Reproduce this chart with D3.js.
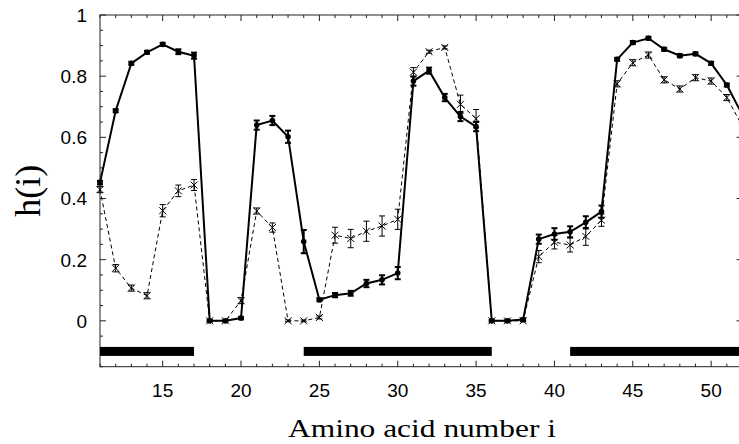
<!DOCTYPE html>
<html>
<head>
<meta charset="utf-8">
<script src="https://cdn.jsdelivr.net/npm/d3@7"></script>
<style>
  body { margin: 0; background: #fff; }
  svg { display: block; }
</style>
</head>
<body>
<div id="chart"></div>
<script>
// Amino acid positions
const residues = d3.range(11, 53);

// Solid series (filled circles) and its error bars
const hSolid = [0.452, 0.687, 0.842, 0.878, 0.904, 0.880, 0.867, 0.000, 0.000, 0.009,
  0.640, 0.655, 0.602, 0.259, 0.069, 0.084, 0.090, 0.122, 0.134, 0.156,
  0.784, 0.818, 0.730, 0.668, 0.635, 0.000, 0.000, 0.004, 0.267, 0.284,
  0.291, 0.322, 0.357, 0.855, 0.910, 0.924, 0.888, 0.867, 0.873, 0.842,
  0.771, 0.673];
const errSolid = [0.006, 0.005, 0.005, 0.005, 0.005, 0.008, 0.01, 0.003, 0.003, 0.004,
  0.015, 0.015, 0.02, 0.038, 0.005, 0.007, 0.008, 0.012, 0.015, 0.02,
  0.015, 0.01, 0.012, 0.015, 0.015, 0.003, 0.003, 0.004, 0.015, 0.019,
  0.018, 0.02, 0.02, 0.005, 0.005, 0.005, 0.005, 0.005, 0.005, 0.005,
  0.005, 0.005];

// Dashed series (crosses) and its error bars
const hDashed = [0.429, 0.172, 0.107, 0.082, 0.360, 0.425, 0.444, 0.000, 0.000, 0.066,
  0.359, 0.305, 0.000, 0.000, 0.011, 0.280, 0.269, 0.293, 0.310, 0.332,
  0.813, 0.880, 0.894, 0.708, 0.661, 0.000, 0.000, 0.000, 0.210, 0.257,
  0.248, 0.276, 0.329, 0.775, 0.844, 0.869, 0.788, 0.758, 0.795, 0.784,
  0.730, 0.636];
const errDashed = [0.01, 0.012, 0.01, 0.01, 0.02, 0.019, 0.018, 0.003, 0.003, 0.01,
  0.01, 0.015, 0.003, 0.003, 0.005, 0.026, 0.03, 0.033, 0.033, 0.033,
  0.015, 0.005, 0.005, 0.03, 0.03, 0.003, 0.003, 0.003, 0.02, 0.022,
  0.023, 0.029, 0.02, 0.01, 0.01, 0.01, 0.01, 0.01, 0.01, 0.01,
  0.01, 0.01];

// Structure segments drawn as black bars under the curves
const segStart = [11, 24, 41];
const segEnd = [17, 36, 52];
const segLevel = -0.1;

const xTicks = [15, 20, 25, 30, 35, 40, 45, 50];
const yTicks = [0, 0.2, 0.4, 0.6, 0.8, 1];

const width = 739;
const height = 444;
const margin = { top: 15, left: 100 };
const plotRight = 742.5;
const plotBottom = 366.7;

const svg = d3.select("#chart").append("svg")
  .attr("width", width)
  .attr("height", height);

const x = d3.scaleLinear().domain([11, 52]).range([margin.left, plotRight]);
const y = d3.scaleLinear().domain([-0.15, 1]).range([plotBottom, margin.top]);

const sans = "'Liberation Sans', Arial, sans-serif";
const serif = "'Liberation Serif', 'Times New Roman', serif";

// frame
svg.append("rect")
  .attr("x", x(11)).attr("y", y(1))
  .attr("width", x(52) - x(11)).attr("height", y(-0.15) - y(1))
  .attr("fill", "none").attr("stroke", "#222").attr("stroke-width", 1);

// ticks on all four sides, pointing inward
const xMinor = d3.range(11, 53);
const yMinor = d3.range(-3, 21).map((d) => d * 0.05);

const frame = svg.append("g").attr("stroke", "#222").attr("stroke-width", 1);
xMinor.forEach((v) => {
  const len = v % 5 === 0 ? 6 : 3;
  frame.append("line").attr("x1", x(v)).attr("x2", x(v)).attr("y1", plotBottom).attr("y2", plotBottom - len);
  frame.append("line").attr("x1", x(v)).attr("x2", x(v)).attr("y1", margin.top).attr("y2", margin.top + len);
});
yMinor.forEach((v) => {
  const major = Math.abs(Math.round(v * 5) - v * 5) < 1e-6;
  const len = major ? 6 : 3;
  frame.append("line").attr("x1", margin.left).attr("x2", margin.left + len).attr("y1", y(v)).attr("y2", y(v));
  frame.append("line").attr("x1", plotRight).attr("x2", plotRight - len).attr("y1", y(v)).attr("y2", y(v));
});

// tick labels
svg.append("g").selectAll("text").data(xTicks).join("text")
  .attr("x", (d) => x(d)).attr("y", 397)
  .attr("text-anchor", "middle")
  .style("font-family", sans).style("font-size", "19px")
  .text((d) => d);

svg.append("g").selectAll("text").data(yTicks).join("text")
  .attr("x", 87).attr("y", (d) => y(d) + 7)
  .attr("text-anchor", "end")
  .style("font-family", sans).style("font-size", "19px")
  .text((d) => d);

// axis titles
svg.append("text")
  .attr("x", 288).attr("y", 437)
  .attr("textLength", 268).attr("lengthAdjust", "spacingAndGlyphs")
  .style("font-family", serif).style("font-size", "26px")
  .text("Amino acid number i");

svg.append("text")
  .attr("transform", `translate(40,${(margin.top + plotBottom) / 2}) rotate(-90)`)
  .attr("text-anchor", "middle")
  .style("font-family", serif).style("font-size", "36px")
  .text("h(i)");

// structure bars
svg.append("g").selectAll("rect").data(segStart).join("rect")
  .attr("x", (d) => x(d))
  .attr("width", (d, i) => x(segEnd[i]) - x(d))
  .attr("y", y(segLevel) - 4.5)
  .attr("height", 9)
  .attr("fill", "#000");

const plot = svg.append("g");

const solidData = residues.map((r, i) => ({ r, v: hSolid[i], e: errSolid[i] }));
const dashedData = residues.map((r, i) => ({ r, v: hDashed[i], e: errDashed[i] }));

const line = d3.line().x((d) => x(d.r)).y((d) => y(d.v));

function errorBars(data, sw) {
  const g = plot.append("g").attr("stroke", "#000").attr("stroke-width", sw);
  data.forEach((d) => {
    g.append("line").attr("x1", x(d.r)).attr("x2", x(d.r)).attr("y1", y(d.v - d.e)).attr("y2", y(d.v + d.e));
    [d.v - d.e, d.v + d.e].forEach((v) => {
      g.append("line").attr("x1", x(d.r) - 3).attr("x2", x(d.r) + 3).attr("y1", y(v)).attr("y2", y(v));
    });
  });
}

// dashed series
plot.append("path").datum(dashedData)
  .attr("d", line).attr("fill", "none")
  .attr("stroke", "#000").attr("stroke-width", 1).attr("stroke-dasharray", "4,3");
errorBars(dashedData, 1);
plot.append("g").attr("stroke", "#000").attr("stroke-width", 1)
  .selectAll("path").data(dashedData).join("path")
  .attr("d", (d) => {
    const cx = x(d.r), cy = y(d.v), s = 3.5;
    return `M${cx - s},${cy - s}L${cx + s},${cy + s}M${cx - s},${cy + s}L${cx + s},${cy - s}`;
  });

// solid series
plot.append("path").datum(solidData)
  .attr("d", line).attr("fill", "none")
  .attr("stroke", "#000").attr("stroke-width", 2);
errorBars(solidData, 2);
plot.append("g").selectAll("circle").data(solidData).join("circle")
  .attr("cx", (d) => x(d.r)).attr("cy", (d) => y(d.v))
  .attr("r", 2.8).attr("fill", "#000");
</script>
</body>
</html>
